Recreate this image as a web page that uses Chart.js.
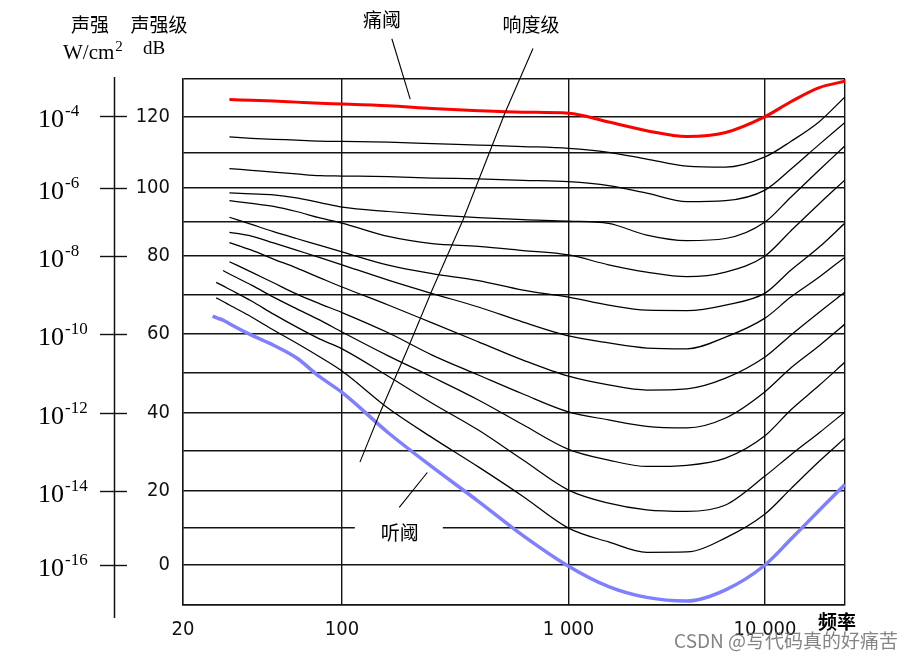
<!DOCTYPE html>
<html><head><meta charset="utf-8">
<script src="https://cdn.jsdelivr.net/npm/chart.js@4.4.1/dist/chart.umd.min.js"></script>
<style>html,body{margin:0;padding:0;background:#fff}canvas{display:block}</style>
</head><body>
<canvas id="c" width="913" height="661"></canvas>
<script>
// ---------- data ----------
const freqHz = [27, 28, 30, 32, 40, 50, 63, 80, 100, 160, 250, 400, 630, 1000, 1600, 2500, 4000, 6300, 10000, 12500, 16000, 20000];
const pain120 = [null,null,null,124.5,124.3,124.1,123.8,123.5,123.3,122.8,122.1,121.5,121.1,120.8,118.4,116.0,114.4,115.5,119.9,123.9,127.7,129.4];
const phon110 = [null,null,null,114.3,113.9,113.6,113.4,113.1,113.0,112.8,112.4,112.0,111.6,111.1,110.0,108.1,106.1,105.8,108.7,113.0,118.5,125.2];
const phon100 = [null,null,null,105.4,104.9,104.4,103.9,103.4,103.3,103.1,102.7,102.5,102.1,101.7,100.6,98.4,95.9,96.2,99.3,105.2,112.2,118.3];
const phon90  = [null,null,null,98.5,98.2,97.9,97.0,95.6,94.3,93.0,92.0,91.2,90.6,90.2,89.5,86.1,84.5,85.1,89.9,97.2,105.0,111.8];
const phon80  = [null,null,null,96.2,95.4,94.5,93.0,91.1,89.6,85.7,83.6,82.8,81.6,80.3,77.7,75.8,74.6,75.8,80.0,87.3,95.3,102.2];
const phon70  = [null,null,null,91.3,89.2,87.1,85.1,83.1,81.2,77.6,75.4,73.6,71.1,69.3,67.3,66.0,65.9,67.3,70.3,76.3,82.6,89.6];
const phon60  = [null,null,null,86.9,85.8,83.8,81.7,79.6,77.7,73.7,70.2,66.8,63.0,59.5,57.7,56.4,56.2,59.2,64.0,69.3,74.5,79.7];
const phon50  = [null,null,null,83.9,81.7,79.2,76.9,74.3,71.9,67.3,62.8,58.0,53.3,49.2,47.0,45.7,46.0,48.7,54.1,59.7,65.5,70.6];
const phon40  = [null,null,null,78.5,75.8,73.0,70.1,67.6,65.4,60.3,54.6,49.5,44.7,40.2,38.1,36.4,36.0,38.6,45.3,51.3,57.0,62.5];
const phon30  = [null,null,76.2,75.3,72.4,69.3,66.4,63.5,60.5,54.4,49.0,43.2,36.8,30.3,27.6,26.0,26.3,28.1,33.9,40.7,46.9,52.8];
const phon20  = [null,73.1,72.2,71.3,68.3,65.0,61.8,58.7,56.2,49.2,42.4,35.4,27.6,20.1,16.6,14.8,14.4,16.1,23.6,28.9,34.7,40.2];
const phon10  = [null,69.1,68.2,67.3,64.3,61.0,57.7,54.1,50.5,41.1,33.4,25.9,18.4,9.9,6.2,3.4,3.5,7.3,13.7,20.4,27.3,33.3];
const hear0   = [64.5,64.1,63.5,62.6,59.7,57.1,53.9,49.0,45.1,34.7,25.9,17.1,7.9,-0.3,-5.4,-8.1,-9.0,-6.2,0.0,6.9,14.7,21.5];

const xTickHz = [20, 100, 1000, 10000, 20000];
const xTickLabels = ['20', '100', '1 000', '10 000', ''];
const yLabelDb = [0, 20, 40, 60, 80, 100, 120];
const intensityDb = [120, 100, 80, 60, 40, 20, 0];
const intensityExp = ['-4', '-6', '-8', '-10', '-12', '-14', '-16'];

// annotation leader lines (Hz, dB)
const painLeader = [[166, 140.8], [200, 124.6]];
const loudLeader = [[697, 138.2], [524, 120.9], [342, 90.5], [250, 71.1], [194, 55.9], [147, 39.9], [120, 27.1]];
const hearLeader = [[238, 24.5], [179, 15.5]];
const hearLabelAt = [180, 8.6];

// ---------- layout of the (non-uniform) axes of the original drawing ----------
const xKnotHz = [20, 100, 1000, 10000, 20000];
const xKnotFrac = [0, 0.24018, 0.58233, 0.87915, 1];
const yKnotDb = [-10, 0, 10, 20, 30, 40, 50, 60, 70, 80, 90, 100, 110, 120, 130];
const yKnotFrac = [0, 0.07605, 0.14677, 0.21768, 0.29373, 0.36559, 0.44106, 0.51521, 0.59068, 0.66350, 0.72871, 0.79335, 0.86065, 0.92909, 1];

function piece(v, a, b) {
  const n = a.length;
  let i = 0;
  if (v >= a[n - 1]) i = n - 2;
  else if (v > a[0]) { while (i < n - 2 && v > a[i + 1]) i++; }
  const t = (v - a[i]) / (a[i + 1] - a[i]);
  return b[i] + t * (b[i + 1] - b[i]);
}
const xLogKnots = xKnotHz.map(Math.log10);

class PieceLinearScale extends Chart.LinearScale {
  static id = 'pieceLinear';
  static defaults = {};
  getPixelForValue(value) {
    if (value === null || value === undefined || isNaN(value)) return NaN;
    return this.getPixelForDecimal(piece(value, yKnotDb, yKnotFrac));
  }
  getValueForPixel(pixel) {
    return piece(this.getDecimalForPixel(pixel), yKnotFrac, yKnotDb);
  }
}
class PieceLogScale extends Chart.LinearScale {
  static id = 'pieceLog';
  static defaults = {};
  getPixelForValue(value) {
    if (value === null || value === undefined || isNaN(value) || value <= 0) return NaN;
    return this.getPixelForDecimal(piece(Math.log10(value), xLogKnots, xKnotFrac));
  }
  getValueForPixel(pixel) {
    return Math.pow(10, piece(this.getDecimalForPixel(pixel), xKnotFrac, xLogKnots));
  }
}
Chart.register(PieceLinearScale, PieceLogScale);

const seriesList = [
  {v: hear0, color: '#7f7fff', w: 3.5},
  {v: pain120, color: '#ff0000', w: 3},
  {v: phon110, color: '#000', w: 1.25},
  {v: phon100, color: '#000', w: 1.25},
  {v: phon90, color: '#000', w: 1.25},
  {v: phon80, color: '#000', w: 1.25},
  {v: phon70, color: '#000', w: 1.25},
  {v: phon60, color: '#000', w: 1.25},
  {v: phon50, color: '#000', w: 1.25},
  {v: phon40, color: '#000', w: 1.25},
  {v: phon30, color: '#000', w: 1.25},
  {v: phon20, color: '#000', w: 1.25},
  {v: phon10, color: '#000', w: 1.25}
];
const datasets = seriesList.map(s => ({
  data: freqHz.map((f, i) => ({x: f, y: s.v[i]})).filter(p => p.y !== null),
  borderColor: s.color,
  borderWidth: s.w,
  pointRadius: 0,
  fill: false,
  cubicInterpolationMode: 'monotone'
}));

const CJK = '"Noto Sans CJK SC", sans-serif';
const SERIF = '"Liberation Serif", "DejaVu Serif", serif';
const NARROW = '"Liberation Sans Narrow", "DejaVu Sans Condensed", "Liberation Sans", sans-serif';
const GRID = '#141414';

function polyline(ctx, x, y, pts) {
  ctx.beginPath();
  pts.forEach((p, i) => {
    const px = x.getPixelForValue(p[0]), py = y.getPixelForValue(p[1]);
    if (i === 0) ctx.moveTo(px, py); else ctx.lineTo(px, py);
  });
  ctx.stroke();
}
function text(ctx, s, px, py, font, align) {
  ctx.font = font; ctx.textAlign = align || 'center'; ctx.textBaseline = 'middle';
  ctx.fillText(s, px, py);
}

const decor = {
  id: 'decor',
  beforeDatasetsDraw(chart) {
    const {ctx, scales: {x, y}} = chart;
    const cx = x.getPixelForValue(hearLabelAt[0]);
    const gy = y.getPixelForValue(10);
    ctx.save();
    ctx.fillStyle = '#fff';
    ctx.fillRect(cx - 45, gy - 3, 88, 6);
    ctx.restore();
  },
  afterDraw(chart) {
    const {ctx, scales: {x, y}} = chart;
    ctx.save();
    ctx.fillStyle = '#000';
    // intensity axis
    ctx.strokeStyle = '#111';
    ctx.lineWidth = 1.5;
    ctx.beginPath(); ctx.moveTo(114.5, 77); ctx.lineTo(114.5, 618); ctx.stroke();
    ctx.lineWidth = 1.4;
    intensityDb.forEach((db, i) => {
      const py = Math.round(y.getPixelForValue(db)) + 0.5;
      ctx.beginPath(); ctx.moveTo(100, py); ctx.lineTo(127, py); ctx.stroke();
      text(ctx, '10', 38, py + 4, '26px ' + SERIF, 'left');
      const w = ctx.measureText('10').width;
      text(ctx, intensityExp[i], 38 + w + 1, py - 5, '17px ' + SERIF, 'left');
    });
    // headers
    text(ctx, '声强', 90, 25, '19px ' + CJK);
    text(ctx, '声强级', 159, 25, '19px ' + CJK);
    text(ctx, 'W/cm', 63, 53, '21px ' + SERIF, 'left');
    const wcm = ctx.measureText('W/cm').width;
    text(ctx, '2', 63 + wcm + 1, 47, '15px ' + SERIF, 'left');
    text(ctx, 'dB', 154, 49, '19px ' + SERIF);
    // annotations
    ctx.lineWidth = 1.1;
    ctx.strokeStyle = '#000';
    polyline(ctx, x, y, painLeader);
    polyline(ctx, x, y, loudLeader);
    polyline(ctx, x, y, hearLeader);
    text(ctx, '痛阈', 382, 20, '19px ' + CJK);
    text(ctx, '响度级', 531, 25, '19px ' + CJK);
    text(ctx, '听阈', x.getPixelForValue(hearLabelAt[0]), y.getPixelForValue(hearLabelAt[1]), '19px ' + CJK);
    text(ctx, '频率', 837, 622, 'bold 19px ' + CJK);
    // watermark
    ctx.fillStyle = 'rgba(110,110,110,0.85)';
    text(ctx, 'CSDN @写代码真的好痛苦', 898, 641, '19px ' + CJK, 'right');
    ctx.restore();
  }
};

new Chart(document.getElementById('c'), {
  type: 'line',
  data: {datasets},
  options: {
    responsive: false,
    animation: false,
    events: [],
    layout: {padding: {left: 0, top: 79, right: 68, bottom: 0}},
    plugins: {legend: {display: false}, tooltip: {enabled: false}, title: {display: false}},
    scales: {
      x: {
        type: 'pieceLog', axis: 'x', position: 'bottom', min: 20, max: 20000,
        afterBuildTicks: s => { s.ticks = xTickHz.map(v => ({value: v})); },
        afterFit: s => { s.height = 56; },
        grid: {color: GRID, lineWidth: 1.4, drawTicks: false},
        border: {color: GRID, width: 1.4},
        ticks: {
          autoSkip: false, maxRotation: 0, minRotation: 0, padding: 13, color: '#111',
          font: {family: NARROW, size: 20, lineHeight: 1.2},
          callback: (v, i) => xTickLabels[i]
        }
      },
      y: {
        type: 'pieceLinear', axis: 'y', position: 'left', min: -10, max: 130,
        afterFit: s => { s.width = 183; },
        grid: {color: GRID, lineWidth: 1.4, drawTicks: false},
        border: {color: GRID, width: 1.4},
        ticks: {
          stepSize: 10, autoSkip: false, padding: 13, color: '#111',
          font: {family: NARROW, size: 20, lineHeight: 1.2},
          callback: v => yLabelDb.includes(v) ? String(v) : ''
        }
      }
    }
  },
  plugins: [decor]
});
</script>
</body></html>
